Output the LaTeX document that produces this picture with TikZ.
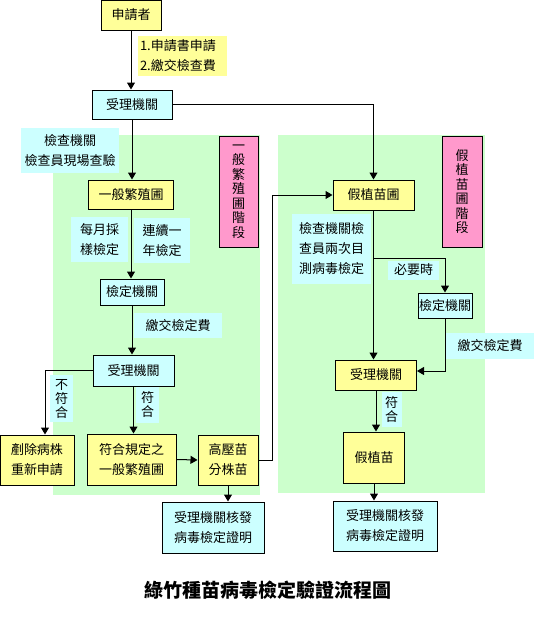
\documentclass[tikz,border=0pt]{standalone}
\usepackage{fontspec}
\newfontfamily\cjk{Noto Sans CJK TC}
\usetikzlibrary{arrows.meta}
\definecolor{byel}{HTML}{FFFF99}
\definecolor{bcyan}{HTML}{CCFFFF}
\definecolor{bgreen}{HTML}{CCFFCC}
\definecolor{bpink}{HTML}{FF99CC}
\begin{document}
\begin{tikzpicture}[x=1pt,y=-1pt,
  txt/.style={inner sep=0pt, align=center, font=\cjk\fontsize{13}{20}\selectfont},
  box/.style={txt, draw=black, line width=1pt},
  ybox/.style={box, fill=byel},
  cbox/.style={box, fill=bcyan},
  pbox/.style={box, fill=bpink, font=\cjk\fontsize{13}{14.5}\selectfont},
  lab/.style={txt, fill=bcyan},
  vlab/.style={txt, fill=bcyan, font=\cjk\fontsize{13}{14}\selectfont},
  arr/.style={-{Triangle[length=7pt,width=8pt]}, line width=1pt},
  ln/.style={line width=1pt},
  sz/.style 2 args={minimum width=#1pt, minimum height=#2pt}]
\useasboundingbox (0,0) rectangle (534,624);
% green stage regions
\fill[bgreen] (53,135) rectangle (260,495);
\fill[bgreen] (278,135) rectangle (485,493);
% labels
\node[txt, fill=byel, text width=85pt, inner xsep=2pt, align=left, minimum height=40pt] (l1) at (182.5,56) {1.申請書申請\\2.繳交檢查費};
\node[lab, sz={98}{45}] (l2) at (70,150.5) {檢查機關\\檢查員現場查驗};
\node[lab, sz={57}{45}] (l3) at (99.5,239.5) {每月採\\樣檢定};
\node[lab, sz={56}{45}] (l4) at (162,240.5) {連續一\\年檢定};
\node[lab, sz={88}{25}] (l5) at (178,325.5) {繳交檢定費};
\node[vlab, sz={23}{47}] (l6) at (61.5,398.5) {不\\符\\合};
\node[vlab, sz={23}{37}] (l7) at (147.5,404.5) {符\\合};
\node[lab, sz={79}{70}] (l8) at (331.5,249) {檢查機關檢\\查員兩次目\\測病毒檢定};
\node[lab, sz={51}{19}] (l9) at (413.5,270) {必要時};
\node[lab, sz={88}{26}] (l10) at (490,346) {繳交檢定費};
\node[vlab, sz={20}{35}] (l11) at (391.5,409.5) {符\\合};
% boxes
\node[ybox, sz={60}{30}] (sq) at (131,15) {申請者};
\node[cbox, sz={80}{29}] (r1) at (132,104.5) {受理機關};
\node[pbox, sz={39}{111}] (pl) at (238.5,191.5) {一\\般\\繁\\殖\\圃\\階\\段};
\node[pbox, sz={40}{111}] (pr) at (462,191.5) {假\\植\\苗\\圃\\階\\段};
\node[ybox, sz={85}{29}] (yb) at (131,194.5) {一般繁殖圃};
\node[cbox, sz={64}{26}] (jd1) at (132,292) {檢定機關};
\node[cbox, sz={81}{31}] (r2) at (133.5,370.5) {受理機關};
\node[ybox, sz={74}{50}] (cz) at (37,460) {剷除病株\\重新申請};
\node[ybox, sz={89}{51}] (fh) at (131.5,459.5) {符合規定之\\一般繁殖圃};
\node[ybox, sz={60}{50}] (gy) at (228,460) {高壓苗\\分株苗};
\node[cbox, sz={102}{51}] (c1) at (213,527.5) {受理機關核發\\病毒檢定證明};
\node[ybox, sz={81}{30}] (jz) at (373.5,195) {假植苗圃};
\node[cbox, sz={54}{25}] (jd2) at (445,305.5) {檢定機關};
\node[ybox, sz={81}{30}] (r3) at (376,375) {受理機關};
\node[ybox, sz={61}{51}] (jm) at (374,457.5) {假植苗};
\node[cbox, sz={104}{50}] (c2) at (385,526) {受理機關核發\\病毒檢定證明};
\node[txt, font=\cjk\bfseries\fontsize{19}{22}\selectfont] (title) at (268,590) {綠竹種苗病毒檢定驗證流程圖};
% connectors
\draw[arr] (sq.south) -- (sq.south |- r1.north);
\draw[arr] (r1.east) -| (jz.north);
\draw[arr] (r1.south) -- (r1.south |- yb.north);
\draw[arr] (yb.south) -- (yb.south |- jd1.north);
\draw[arr] (jd1.south) -- (jd1.south |- r2.north);
\draw[arr] (r2.west) -| ([xshift=8pt]cz.north);
\draw[arr] (r2.south) -- (r2.south |- fh.north);
\draw[arr] (fh.east) -- (gy.west);
\draw[arr] (gy.east) -- ++(14,0) |- (jz.west);
\draw[arr] (gy.south) -- (gy.south |- c1.north);
\draw[arr] (jz.south) -- (jz.south |- r3.north);
\coordinate (br) at (374,258);
\draw[arr] (br) -| (jd2.north);
\draw[arr] (jd2.south) |- ([yshift=4pt]r3.east);
\draw[arr] (r3.south) -- (r3.south |- jm.north);
\draw[arr] (jm.south) -- (jm.south |- c2.north);
\end{tikzpicture}
\end{document}
